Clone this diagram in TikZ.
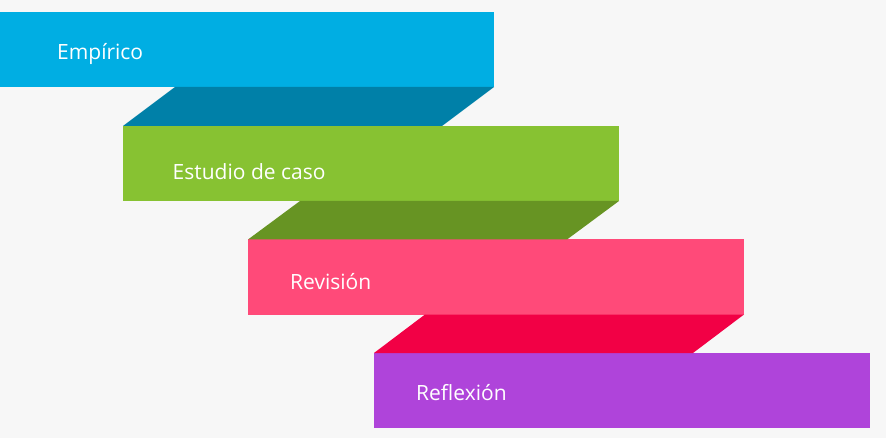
\documentclass[tikz,border=0pt]{standalone}
\usepackage{fontspec}
\setmainfont{Open Sans}
\usetikzlibrary{calc}
\definecolor{bgray}{HTML}{F7F7F7}
\definecolor{cblue}{HTML}{00AEE3}
\definecolor{cblued}{HTML}{0080A8}
\definecolor{cgreen}{HTML}{87C232}
\definecolor{cgreend}{HTML}{679423}
\definecolor{cpink}{HTML}{FF4A79}
\definecolor{cpinkd}{HTML}{F20045}
\definecolor{cviolet}{HTML}{AF44DA}
\begin{document}
\begin{tikzpicture}
        [x=1pt,y=-1pt,
        bar/.style={rectangle,anchor=north west,minimum width=496pt,minimum height=75pt,inner sep=0pt,outer sep=0pt},
        lab/.style={anchor=base west,inner sep=0pt,text=white,font=\fontsize{21}{25}\selectfont}]
        \useasboundingbox[fill=bgray] (0,0) rectangle (886,438);
        % bars
        \node (emp) at (-2,12) [bar,fill=cblue] {};
        \node (est) at (123,126) [bar,fill=cgreen] {};
        \node (rev) at (248,239.5) [bar,fill=cpink] {};
        \node (ref) at (374,353) [bar,fill=cviolet] {};
        % folds
        \fill[cblued] (emp.south east) -- ($(est.north west)+(319,0)$) -- (est.north west) -- ($(emp.south east)+(-319,0)$) -- cycle;
        \fill[cgreend] (est.south east) -- ($(rev.north west)+(319,0)$) -- (rev.north west) -- ($(est.south east)+(-319,0)$) -- cycle;
        \fill[cpinkd] (rev.south east) -- ($(ref.north west)+(319,0)$) -- (ref.north west) -- ($(rev.south east)+(-319,0)$) -- cycle;
        % labels
        \node (lemp) at (57,60) [lab] {Empírico};
        \node (lest) at (172.5,180) [lab] {Estudio de caso};
        \node (lrev) at (290,290) [lab] {Revisión};
        \node (lref) at (416,400.5) [lab] {Reflexión};
     \end{tikzpicture}
\end{document}
